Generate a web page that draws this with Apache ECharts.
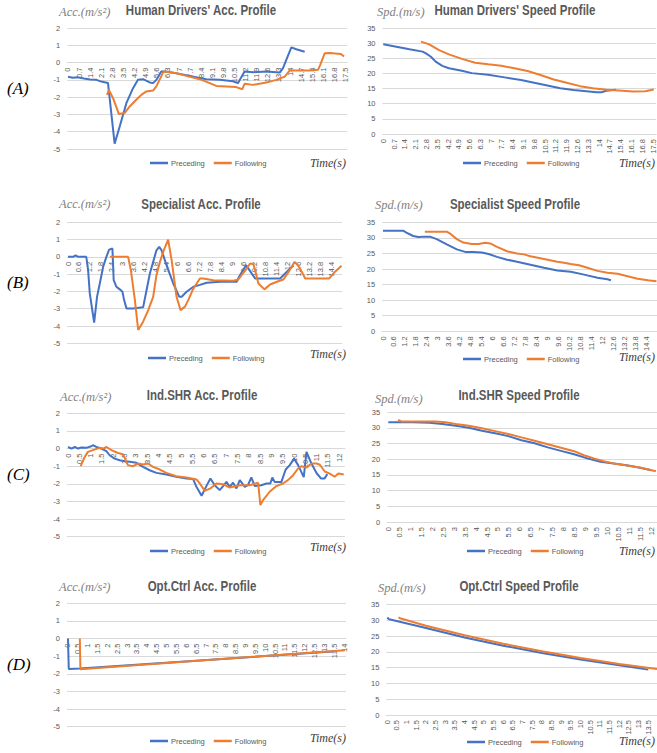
<!DOCTYPE html>
<html><head><meta charset="utf-8">
<script src="https://cdn.jsdelivr.net/npm/echarts@6/dist/echarts.min.js"></script>
<style>html,body{margin:0;padding:0;background:#fff}#c{width:657px;height:753px}</style>
</head><body><div id="c"></div>
<script>
// ---------- text ----------
const rowLabels = ['(A)', '(B)', '(C)', '(D)'];
const accTitles = ["Human Drivers' Acc. Profile", 'Specialist Acc. Profile', 'Ind.SHR Acc. Profile', 'Opt.Ctrl Acc. Profile'];
const spdTitles = ["Human Drivers' Speed Profile", 'Specialist Speed Profile', 'Ind.SHR Speed Profile', 'Opt.Ctrl Speed Profile'];
const seriesNames = ['Preceding', 'Following'];
const accAxisName = 'Acc.(m/s²)';
const spdAxisName = 'Spd.(m/s)';
const timeName = 'Time(s)';

// ---------- tick labels ----------
const timeTicksA = [0,0.7,1.4,2.1,2.8,3.5,4.2,4.9,5.6,6.3,7,7.7,8.4,9.1,9.8,10.5,11.2,11.9,12.6,13.3,14,14.7,15.4,16.1,16.8,17.5];
const timeTicksB = [0,0.6,1.2,1.8,2.4,3,3.6,4.2,4.8,5.4,6,6.6,7.2,7.8,8.4,9,9.6,10.2,10.8,11.4,12,12.6,13.2,13.8,14.4];
const timeTicksC = [0,0.5,1,1.5,2,2.5,3,3.5,4,4.5,5,5.5,6,6.5,7,7.5,8,8.5,9,9.5,10,10.5,11,11.5,12];
const timeTicksD = [0,0.5,1,1.5,2,2.5,3,3.5,4,4.5,5,5.5,6,6.5,7,7.5,8,8.5,9,9.5,10,10.5,11,11.5,12,12.5,13,13.5,14];
const timeTicks = [timeTicksA, timeTicksB, timeTicksC, timeTicksD];
const accTicks = [-5, 2, 1];                       // min, max, step
const spdTicks = [0, 35, 5];

// ---------- data: [time (s), value] ----------
const accA_prec = [[0,-0.82],[0.3,-0.88],[0.6,-0.85],[1.0,-0.92],[1.4,-0.98],[1.8,-1.0],[2.1,-1.1],[2.52,-1.18],[2.94,-4.69],[3.26,-3.7],[3.68,-2.35],[4.1,-1.48],[4.41,-1.0],[4.73,-0.96],[5.15,-1.15],[5.36,-1.19],[5.57,-1.0],[5.88,-0.52],[6.1,-0.52],[6.83,-0.62],[7.67,-0.77],[8.72,-0.96],[9.56,-1.0],[10.4,-1.08],[10.71,-1.19],[11.13,-0.52],[11.66,-0.56],[12.5,-0.52],[13.34,-0.58],[13.55,-0.33],[13.76,0.15],[14.08,0.88],[14.39,0.77],[14.92,0.63]];
const accA_foll = [[2.46,-1.87],[2.58,-1.58],[2.84,-2.06],[3.21,-2.98],[3.57,-2.92],[3.89,-2.54],[4.3,-2.15],[4.62,-1.87],[4.94,-1.67],[5.36,-1.62],[5.57,-1.38],[5.99,-0.58],[6.09,-0.52],[6.83,-0.62],[7.46,-0.77],[8.3,-0.96],[8.93,-1.19],[9.35,-1.35],[9.98,-1.38],[10.6,-1.42],[10.99,-1.54],[11.13,-1.23],[11.66,-1.29],[12.5,-1.15],[13.13,-1.0],[13.66,-0.81],[13.97,-0.46],[14.6,-0.46],[15.23,-0.46],[15.76,-0.42],[15.9,-0.13],[16.18,0.54],[16.5,0.55],[17.2,0.5],[17.4,0.35]];
const spdA_prec = [[0,29.6],[0.85,28.8],[1.7,27.95],[2.55,27.2],[2.77,26.6],[3.09,25.5],[3.4,23.9],[3.83,22.5],[4.26,21.7],[5.1,20.9],[5.74,20.1],[6.8,19.6],[7.87,18.7],[8.94,17.8],[9.79,16.9],[10.64,16.0],[11.49,15.1],[12.34,14.5],[13.19,14.1],[13.83,13.75],[14.15,13.75],[14.47,14.3],[15.1,14.6]];
const spdA_foll = [[2.45,30.5],[2.98,29.6],[3.62,27.7],[4.26,26.3],[5.1,24.8],[5.96,23.5],[6.8,23.0],[7.66,22.5],[8.51,21.7],[9.36,20.8],[10.2,19.5],[11.06,18.0],[11.9,16.9],[12.77,15.8],[13.6,15.1],[14.47,14.6],[15.3,14.4],[16.17,14.0],[17.0,14.1],[17.55,14.7]];

const accB_prec = [[0,0],[0.27,0],[0.42,0.08],[0.55,0],[1.0,0],[1.1,-0.77],[1.19,-2.1],[1.43,-3.8],[1.59,-2.3],[1.74,-1.54],[1.92,-0.58],[2.1,0],[2.25,0.42],[2.43,0.48],[2.5,-1.35],[2.65,-1.73],[2.83,-1.88],[2.98,-2.02],[3.07,-2.5],[3.2,-2.98],[3.56,-2.98],[4.11,-2.92],[4.3,-1.92],[4.48,-0.96],[4.66,-0.29],[4.84,0.38],[4.99,0.58],[5.12,0.38],[5.39,-0.48],[5.76,-1.54],[6.09,-2.31],[6.22,-2.31],[6.49,-2.02],[6.86,-1.73],[7.22,-1.62],[7.59,-1.5],[8.32,-1.44],[9.23,-1.44],[9.41,-1.06],[9.74,-0.48],[9.93,-0.77],[10.24,-1.25],[10.69,-1.25],[11.61,-1.25],[11.88,-0.96],[12.16,-0.67],[12.34,-0.5]];
const accB_foll = [[2.29,0],[3.29,0],[3.44,-0.77],[3.66,-2.5],[3.84,-4.23],[4.11,-3.75],[4.39,-3.08],[4.66,-2.31],[4.84,-1.06],[5.03,-0.29],[5.21,0.29],[5.3,0.54],[5.48,1.0],[5.67,-0.19],[5.94,-2.31],[6.16,-3.08],[6.4,-2.88],[6.58,-2.5],[6.82,-1.92],[7.04,-1.54],[7.22,-1.25],[7.4,-1.25],[7.95,-1.35],[9.05,-1.38],[9.32,-1.31],[9.78,-0.67],[9.96,-0.38],[10.15,-0.42],[10.42,-1.54],[10.75,-1.88],[11.06,-1.6],[11.43,-1.44],[11.79,-1.31],[12.07,-0.87],[12.4,-0.29],[12.58,-0.48],[12.8,-0.87],[12.98,-1.25],[13.25,-1.25],[13.8,-1.25],[14.3,-1.25],[14.6,-0.87],[14.97,-0.52]];
const spdB_prec = [[0,32.3],[1.1,32.3],[1.28,31.7],[1.65,30.6],[1.93,30.3],[2.29,30.4],[2.57,30.4],[2.94,29.6],[3.49,27.9],[4.04,26.3],[4.5,25.5],[4.95,25.5],[5.41,25.3],[5.78,24.8],[6.24,23.9],[6.79,23.0],[7.34,22.3],[8.07,21.4],[8.81,20.4],[9.54,19.5],[10.28,19.1],[11.01,18.2],[11.74,17.2],[12.29,16.7],[12.48,16.4]];
const spdB_foll = [[2.29,32.0],[3.49,32.0],[3.67,31.4],[4.04,29.6],[4.4,28.5],[4.86,28.0],[5.23,28.0],[5.6,28.4],[5.87,28.2],[6.24,27.1],[6.79,25.7],[7.34,25.0],[7.71,24.7],[8.07,24.1],[8.81,23.2],[9.54,22.3],[9.91,22.0],[10.28,21.6],[10.73,21.2],[11.19,20.4],[11.74,19.4],[12.29,18.8],[12.84,18.5],[13.39,17.7],[13.94,16.9],[14.5,16.4],[14.97,16.1]];

const accC_prec = [[0,0.09],[0.15,0],[0.3,0.09],[0.44,0],[0.59,0.06],[0.81,0.04],[1.03,0.13],[1.1,0.19],[1.25,0.09],[1.47,0],[1.7,-0.15],[1.84,-0.38],[2.06,-0.57],[2.29,-0.66],[2.51,-0.72],[2.73,-0.75],[3.02,-0.81],[3.32,-1.04],[3.61,-1.23],[3.91,-1.38],[4.35,-1.47],[4.79,-1.6],[5.24,-1.7],[5.53,-1.72],[5.68,-2.17],[5.91,-2.68],[6.12,-2.13],[6.3,-1.7],[6.49,-2.08],[6.71,-2.36],[6.86,-2.13],[7.01,-1.89],[7.15,-2.17],[7.3,-1.94],[7.45,-2.26],[7.6,-1.79],[7.82,-2.17],[7.96,-2.08],[8.11,-1.64],[8.26,-2.13],[8.55,-2.08],[8.78,-1.98],[8.95,-1.98],[9.04,-1.64],[9.14,-1.89],[9.44,-1.89],[9.63,-1.19],[9.81,-0.94],[10.0,-0.57],[10.18,-0.94],[10.43,-1.62],[10.55,-0.19],[10.77,-0.85],[11.0,-1.4],[11.2,-1.7],[11.35,-1.7],[11.47,-1.45]];
const accC_foll = [[0.56,-1.0],[0.74,-0.47],[0.88,-0.19],[1.1,-0.09],[1.4,0.04],[1.55,0],[1.7,0.09],[1.92,-0.09],[2.21,-0.25],[2.43,-0.32],[2.65,-0.94],[2.88,-1.0],[3.1,-0.85],[3.32,-0.91],[3.54,-0.85],[3.76,-1.04],[4.06,-1.19],[4.35,-1.38],[4.79,-1.57],[5.24,-1.64],[5.68,-1.75],[5.83,-1.98],[6.05,-2.4],[6.3,-2.26],[6.56,-1.98],[6.86,-2.02],[7.15,-2.21],[7.6,-2.08],[8.04,-2.08],[8.41,-1.94],[8.51,-3.21],[8.63,-2.92],[8.92,-2.45],[9.22,-2.13],[9.51,-1.98],[9.73,-1.79],[9.96,-1.51],[10.18,-1.13],[10.32,-1.0],[10.55,-1.08],[10.77,-0.85],[11.0,-0.85],[11.14,-0.92],[11.36,-1.3],[11.58,-1.42],[11.8,-1.6],[11.96,-1.42],[12.2,-1.47]];
const spdC_prec = [[0,31.8],[1.12,31.8],[1.87,31.7],[2.47,31.3],[3.07,30.7],[3.67,30.1],[4.27,29.1],[4.87,28.3],[5.47,27.4],[6.07,26.1],[6.67,25.1],[7.27,23.8],[7.87,22.7],[8.47,21.6],[9.07,20.3],[9.67,19.2],[10.27,18.7],[10.87,18.1],[11.47,17.3],[12.0,16.5]];
const spdC_foll = [[0.45,32.6],[0.6,32.1],[1.12,32.1],[2.17,32.1],[2.62,31.8],[3.07,31.3],[3.67,30.7],[4.27,29.9],[4.87,29.0],[5.47,28.1],[6.07,27.0],[6.67,25.9],[7.27,24.8],[7.87,23.7],[8.47,22.6],[8.92,21.3],[9.37,20.3],[9.82,19.4],[10.27,18.7],[10.87,18.0],[11.47,17.4],[12.2,16.2]];

const accD_prec = [[0,0],[0.04,-1.72],[0.6,-1.7],[13.6,-0.72]];
const accD_foll = [[0.6,0],[0.63,-1.74],[14.05,-0.66]];
const spdD_prec = [[0,30.9],[0.1,30.4],[2,27.6],[4,24.6],[6,22.0],[8,19.7],[10,17.6],[12,15.8],[13.5,14.4]];
const spdD_foll = [[0.58,31.0],[0.7,30.6],[2,28.3],[4,25.3],[6,22.6],[8,20.2],[10,18.1],[12,16.2],[13.95,14.6]];

const accData = [[accA_prec, accA_foll], [accB_prec, accB_foll], [accC_prec, accC_foll], [accD_prec, accD_foll]];
const spdData = [[spdA_prec, spdA_foll], [spdB_prec, spdB_foll], [spdC_prec, spdC_foll], [spdD_prec, spdD_foll]];

// ---------- layout (pixels); x axis starts half a sample before 0 ----------
const X_MIN = -0.05;
const accLayout = [
  {left: 67.2, top: 28, height: 121, width: 280, max: 17.6},
  {left: 67.1, top: 222.3, height: 121, width: 275, max: 15.0},
  {left: 66.9, top: 413.3, height: 123.4, width: 278, max: 12.25},
  {left: 67, top: 603.3, height: 123.4, width: 279, max: 14.1}
];
const spdLayout = [
  {left: 382.5, top: 28, height: 106, width: 278, max: 17.7},
  {left: 382.1, top: 222.3, height: 109, width: 275, max: 15.0},
  {left: 387.2, top: 412.3, height: 109.7, width: 273, max: 12.25},
  {left: 386.3, top: 604.7, height: 110.3, width: 274, max: 13.95}
];
const titleY = [10, 204.5, 395, 586];
const accTitleX = [201, 201, 202, 202];
const spdTitleX = [515, 515, 519, 519];
const accNamePos = [[59, 12], [59, 204], [60, 397], [59, 587]];
const spdNamePos = [[377, 12], [375, 205], [375, 399], [378, 588]];
const rowLabelY = [88, 282, 474, 664];
const accTimePos = [[310, 163], [310, 354], [310, 547], [310, 738]];
const spdTimePos = [[619, 163], [619, 357], [619, 551], [619, 741]];
const accLegendPos = [[150, 165], [148, 360], [150, 553], [150, 743]];
const spdLegendPos = [[463, 165], [463, 361], [467, 553], [467, 744]];

const COLORS = ['#4472C4', '#ED7D31'];
const GRID = '#D9D9D9';
const TXT = '#595959';
const SANS = "'Liberation Sans', Arial, sans-serif";
const SERIF = "'Liberation Serif', 'DejaVu Serif', serif";

const grids = [], xAxes = [], yAxes = [], series = [], legends = [], graphics = [];

function xLabelAxis(gi, lay, ticks) {
  // a blank label sits at the axis start so that the "0" label is never the edge label
  const vals = [X_MIN].concat(ticks);
  return {
    type: 'value', gridIndex: gi, min: X_MIN, max: lay.max, position: 'bottom',
    axisLine: {show: true, onZero: false, lineStyle: {color: GRID, width: 1}},
    axisTick: {show: false, customValues: vals}, splitLine: {show: false},
    axisLabel: {rotate: 90, fontSize: 7.5, lineHeight: 8, color: TXT, fontFamily: SANS, margin: 5,
      customValues: vals, showMinLabel: false, showMaxLabel: true, hideOverlap: false,
      formatter: v => (v < 0 ? '' : String(v))}
  };
}

function addPanel(lay, ticks, tickVals, data) {
  const gi = grids.length;
  grids.push({left: lay.left, top: lay.top, width: lay.width, height: lay.height, containLabel: false});
  const crosses = ticks[0] < 0;
  if (crosses) {
    xAxes.push({type: 'value', gridIndex: gi, min: X_MIN, max: lay.max, show: false});
  } else {
    xAxes.push(xLabelAxis(gi, lay, tickVals));
  }
  yAxes.push({
    type: 'value', gridIndex: gi, min: ticks[0], max: ticks[1], interval: ticks[2],
    axisLine: {show: false}, axisTick: {show: false},
    splitLine: {show: true, lineStyle: {color: GRID, width: 1}},
    axisLabel: {fontSize: 7.5, lineHeight: 8, color: TXT, fontFamily: SANS, margin: 7}
  });
  const ai = xAxes.length - 1;
  data.forEach((d, k) => {
    series.push({
      type: 'line', name: seriesNames[k], xAxisIndex: ai, yAxisIndex: ai, data: d,
      showSymbol: false, symbol: 'none', smooth: false, animation: false, z: 2 + k,
      lineStyle: {color: COLORS[k], width: 2}, itemStyle: {color: COLORS[k]}
    });
  });
  if (crosses) {
    // label band whose bottom edge lies on the zero line of the y axis
    const gj = grids.length;
    const zeroFromTop = lay.height * ticks[1] / (ticks[1] - ticks[0]);
    grids.push({left: lay.left, top: lay.top, width: lay.width, height: zeroFromTop, containLabel: false});
    xAxes.push(xLabelAxis(gj, lay, tickVals));
    yAxes.push({type: 'value', gridIndex: gj, min: 0, max: 1, show: false,
      axisLabel: {show: false}, axisLine: {show: false}, axisTick: {show: false}, splitLine: {show: false}});
  }
}

for (let r = 0; r < 4; r++) {
  addPanel(accLayout[r], accTicks, timeTicks[r], accData[r]);
  addPanel(spdLayout[r], spdTicks, timeTicks[r], spdData[r]);
}

function text(x, y, str, font, fill, align, sx) {
  graphics.push({type: 'text', x: x, y: y, scaleX: sx || 1, silent: true, z: 100,
    style: {text: str, font: font, fill: fill, textAlign: align || 'left', textVerticalAlign: 'middle'}});
}

for (let r = 0; r < 4; r++) {
  text(accTitleX[r], titleY[r], accTitles[r], "bold 14px " + SANS, TXT, 'center', 0.82);
  text(spdTitleX[r], titleY[r], spdTitles[r], "bold 14px " + SANS, TXT, 'center', 0.82);
  text(accNamePos[r][0], accNamePos[r][1], accAxisName, "italic 12.5px " + SERIF, '#7F7F7F');
  text(spdNamePos[r][0], spdNamePos[r][1], spdAxisName, "italic 12.5px " + SERIF, '#7F7F7F');
  text(7, rowLabelY[r], rowLabels[r], "italic 17px " + SERIF, '#000000');
  text(accTimePos[r][0], accTimePos[r][1], timeName, "italic 12px " + SERIF, '#404040');
  text(spdTimePos[r][0], spdTimePos[r][1], timeName, "italic 12px " + SERIF, '#404040');
  [accLegendPos[r], spdLegendPos[r]].forEach(p => {
    legends.push({
      data: seriesNames, left: p[0], top: p[1] - 6, icon: 'rect', itemWidth: 18, itemHeight: 2.5,
      itemGap: 9, selectedMode: false, padding: 0,
      textStyle: {fontSize: 7.5, color: TXT, fontFamily: SANS, padding: [0, 0, 0, -2]}
    });
  });
}

const chart = echarts.init(document.getElementById('c'), null, {renderer: 'svg', width: 657, height: 753});
chart.setOption({
  animation: false,
  backgroundColor: '#ffffff',
  grid: grids, xAxis: xAxes, yAxis: yAxes, series: series, legend: legends,
  graphic: {elements: graphics}
});
</script>
</body></html>
